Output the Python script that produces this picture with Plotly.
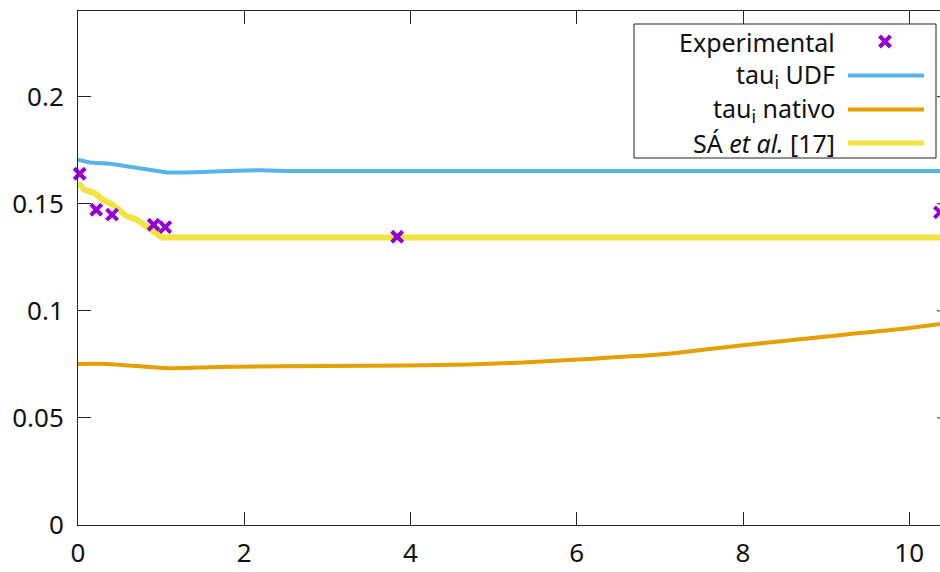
import plotly.graph_objects as go

# ---------------- data ----------------
exp_x = [0.02, 0.22, 0.41, 0.91, 1.05, 3.84, 10.369]
exp_y = [0.1640, 0.1472, 0.1449, 0.1402, 0.1391, 0.1346, 0.1460]

udf_x = [0, 0.14, 0.39, 0.71, 1.07, 1.31, 1.59, 1.9, 2.2, 2.5, 3.5, 5, 7, 9, 10.5]
udf_y = [0.1706, 0.1693, 0.1687, 0.1667, 0.1646, 0.1646, 0.1651, 0.1654, 0.1657,
         0.1653, 0.1653, 0.1653, 0.1653, 0.1653, 0.1653]

nat_x = [0, 0.35, 0.7, 1.1, 1.7, 2.5, 3.5, 4.7, 5.3, 5.9, 6.5, 7.1, 7.6, 8.2, 8.8,
         9.4, 10.0, 10.5]
nat_y = [0.0752, 0.0752, 0.0742, 0.0732, 0.0738, 0.0741, 0.0743, 0.0750, 0.0758,
         0.0770, 0.0784, 0.0800, 0.0822, 0.0848, 0.0872, 0.0896, 0.0920, 0.0945]

sa_x = [0, 0.08, 0.2, 0.3, 0.42, 0.5, 0.59, 0.71, 0.83, 0.95, 1.01, 2, 4, 6, 8, 10.5]
sa_y = [0.1597, 0.1565, 0.1550, 0.1519, 0.1495, 0.1472, 0.1441, 0.1425, 0.1394,
        0.1355, 0.1342, 0.1342, 0.1342, 0.1342, 0.1342, 0.1342]

x_ticks = [0, 2, 4, 6, 8, 10]
y_ticks = [0, 0.05, 0.1, 0.15, 0.2]
legend_labels = ["Experimental", "tau<sub>i</sub> UDF", "tau<sub>i</sub> nativo",
                 "SÁ <i>et al.</i> [17]"]

# ---------------- style ----------------
C_EXP = "#9400D3"
C_UDF = "#56B4E9"
C_NAT = "#E69F00"
C_SA = "#F0E442"
FONT = "Noto Sans, DejaVu Sans, sans-serif"
FS_TICK = 26
FS_LEG = 25
AX = "#222222"

W, H = 940, 572
ML, MR, MT, MB = 78, 0, 11, 47
PW, PH = W - ML - MR, H - MT - MB


def px(x):  # window pixel -> paper x
    return (x - ML) / PW


def py(y):  # window pixel -> paper y
    return (H - MB - y) / PH


fig = go.Figure()
fig.add_trace(go.Scatter(x=udf_x, y=udf_y, mode="lines",
                         line=dict(color=C_UDF, width=4), showlegend=False))
fig.add_trace(go.Scatter(x=nat_x, y=nat_y, mode="lines", line_shape="spline",
                         line=dict(color=C_NAT, width=4), showlegend=False))
fig.add_trace(go.Scatter(x=sa_x, y=sa_y, mode="lines",
                         line=dict(color=C_SA, width=6), showlegend=False))
fig.add_trace(go.Scatter(x=exp_x, y=exp_y, mode="markers", cliponaxis=False,
                         marker=dict(symbol="x-thin", size=11, color=C_EXP,
                                     line=dict(color=C_EXP, width=4)),
                         showlegend=False))

# legend key marker on an overlay paper-like axis
fig.add_trace(go.Scatter(x=[px(885)], y=[py(41.5)], mode="markers",
                         xaxis="x2", yaxis="y2", cliponaxis=False,
                         marker=dict(symbol="x-thin", size=11, color=C_EXP,
                                     line=dict(color=C_EXP, width=4)),
                         showlegend=False, hoverinfo="skip"))

shapes = []
# legend box
shapes.append(dict(type="rect", xref="paper", yref="paper",
                   x0=px(634), x1=px(936), y0=py(158), y1=py(24),
                   line=dict(color=AX, width=1), fillcolor="rgba(0,0,0,0)",
                   layer="below"))
rows = [41.5, 75.5, 109.5, 143]
for yy, col, w in [(rows[1], C_UDF, 4), (rows[2], C_NAT, 4), (rows[3], C_SA, 5)]:
    shapes.append(dict(type="line", xref="paper", yref="paper",
                       x0=px(848), x1=px(924), y0=py(yy), y1=py(yy),
                       line=dict(color=col, width=w)))
# right-side mirror tick stubs (border lies just beyond the crop)
for t in y_ticks[1:]:
    shapes.append(dict(type="line", xref="paper", yref="y",
                       x0=px(937), x1=1.0, y0=t, y1=t,
                       line=dict(color=AX, width=1)))

annotations = []
for yy, lab in zip(rows, legend_labels):
    annotations.append(dict(xref="paper", yref="paper", x=px(837), y=py(yy),
                            xanchor="right", yanchor="middle", text=lab,
                            showarrow=False,
                            font=dict(family=FONT, size=FS_LEG, color="#111111")))

fig.update_layout(
    width=W, height=H,
    margin=dict(l=ML, r=MR, t=MT, b=MB),
    paper_bgcolor="white", plot_bgcolor="white",
    font=dict(family=FONT, size=FS_TICK, color="#111111"),
    showlegend=False,
    xaxis=dict(range=[0, 10.37], tickvals=x_ticks, ticks="inside", ticklen=13,
               tickwidth=1, tickcolor=AX, showline=True, linecolor=AX,
               linewidth=1, mirror="ticks", showgrid=False, zeroline=False,
               automargin=False,
               ticklabelstandoff=5, tickfont=dict(family=FONT, size=FS_TICK)),
    yaxis=dict(range=[0, 0.24], tickvals=y_ticks, ticks="inside", ticklen=13,
               tickwidth=1, tickcolor=AX, showline=True, linecolor=AX,
               linewidth=1, mirror=False, showgrid=False, zeroline=False,
               automargin=False,
               ticklabelstandoff=8, tickfont=dict(family=FONT, size=FS_TICK)),
    xaxis2=dict(range=[0, 1], overlaying="x", visible=False),
    yaxis2=dict(range=[0, 1], overlaying="y", visible=False),
    shapes=shapes,
    annotations=annotations,
)

fig.write_html(
    "out.html",
    config={"displayModeBar": False},
    post_script=("document.body.style.margin='0';"
                 "document.body.style.overflow='hidden';"
                 "document.documentElement.style.overflow='hidden';"),
)
